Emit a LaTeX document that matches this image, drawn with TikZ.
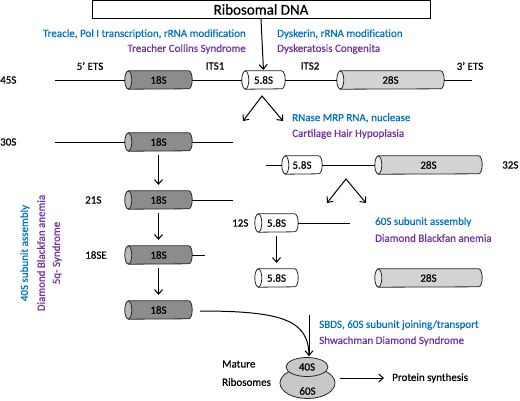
\documentclass[tikz,border=0pt]{standalone}
\usepackage{fontspec}
\setmainfont{Carlito}[FakeBold=0.5]
\usetikzlibrary{arrows.meta,shapes.geometric}
\definecolor{tblue}{HTML}{0070C0}
\definecolor{tpurple}{HTML}{7030A0}
\definecolor{dkgray}{HTML}{8C8C8C}
\definecolor{dkcap}{HTML}{B8B8B8}
\definecolor{ltgray}{HTML}{D3D3D3}
\definecolor{ltcap}{HTML}{EBEBEB}
\definecolor{ribo}{HTML}{C8C8C8}
\pgfdeclarelayer{bg}\pgfsetlayers{bg,main}
\tikzset{
 every node/.style={font=\fontsize{11}{13}\selectfont, inner sep=0pt},
 cylbox/.style={minimum height=18pt},
 cyledge/.style={draw=black!85, line width=0.8pt},
 rna/.style={line width=1pt},
 arr/.style={line width=1pt, -{Straight Barb[length=4.5pt,width=8pt]}},
 varr/.style={line width=1pt, line join=miter, {Straight Barb[length=4.5pt,width=8pt]}-{Straight Barb[length=4.5pt,width=8pt]}},
 fblue/.style={text=tblue},
 fpurple/.style={text=tpurple},
}
\newcommand{\rcyl}[7]{%
 \node[cylbox, minimum width=#3pt] (#1) at (#2,#4) {#7};
 \begin{pgfonlayer}{bg}
 \filldraw[cyledge, fill=#5] (#1.north west) -- (#1.north east) arc[start angle=90,end angle=-90,x radius=3.5pt,y radius=9pt] -- (#1.south west) -- cycle;
 \filldraw[cyledge, fill=#6] (#1.west) ellipse[x radius=3.5pt,y radius=9pt];
 \end{pgfonlayer}
}
\begin{document}
\begin{tikzpicture}[x=1pt,y=-1pt]
\useasboundingbox (0,0) rectangle (520,400);
\node[draw, line width=0.8pt, minimum width=338pt, minimum height=18pt, font=\fontsize{15}{17}\selectfont] (dna) at (261,9.5) {Ribosomal DNA};

\node[fblue, anchor=east] (t1) at (246,34) {Treacle, Pol I transcription, rRNA modification};
\node[fpurple, anchor=east] (t2) at (246,49) {Treacher Collins Syndrome};
\node[fblue, anchor=west] (t3) at (277,34) {Dyskerin, rRNA modification};
\node[fpurple, anchor=west] (t4) at (277,49) {Dyskeratosis Congenita};

% 45S
\node[anchor=west] (l45) at (0,80) {45S};
\rcyl{a18}{158.5}{60}{80}{dkgray}{dkcap}{18S}
\rcyl{a58}{263.5}{36}{80}{white}{white}{5.8S}
\rcyl{a28}{390.5}{100}{80}{ltgray}{ltcap}{28S}
\coordinate (a0) at (55,80); \coordinate (a9) at (472,80);
\draw[rna] (a0) -- ([xshift=-3.5pt]a18.west);
\draw[rna] ([xshift=3.5pt]a18.east) -- ([xshift=-3.5pt]a58.west);
\draw[rna] ([xshift=3.5pt]a58.east) -- ([xshift=-3.5pt]a28.west);
\draw[rna] ([xshift=3.5pt]a28.east) -- (a9);
\node (e5) at (90,66) {5’ ETS};
\node (i1) at (215,66) {ITS1};
\node (i2) at (310,66) {ITS2};
\node (e3) at (470,66) {3’ ETS};
\draw[arr, shorten >=1pt] (dna.south) -- (a58.north);

\coordinate (v1) at (262,96); \coordinate (v1l) at (243,121); \coordinate (v1r) at (283,121);
\draw[varr] (v1l) -- (v1) -- (v1r);
\node[fblue, anchor=west] (t5) at (292,118) {RNase MRP RNA, nuclease};
\node[fpurple, anchor=west] (t6) at (292,134) {Cartilage Hair Hypoplasia};

% 30S
\node[anchor=west] (l30) at (0,142) {30S};
\rcyl{b18}{158.5}{60}{142}{dkgray}{dkcap}{18S}
\coordinate (b0) at (55,142); \coordinate (b9) at (233,142);
\draw[rna] (b0) -- ([xshift=-3.5pt]b18.west);
\draw[rna] ([xshift=3.5pt]b18.east) -- (b9);

% 32S
\rcyl{c58}{302}{33}{165}{white}{white}{5.8S}
\rcyl{c28}{428.5}{100}{165}{ltgray}{ltcap}{28S}
\coordinate (c0) at (266,165);
\draw[rna] (c0) -- ([xshift=-3.5pt]c58.west);
\draw[rna] ([xshift=3.5pt]c58.east) -- ([xshift=-3.5pt]c28.west);
\node[anchor=west] (l32) at (502,165) {32S};
\coordinate (v2) at (346,179); \coordinate (v2l) at (327,203); \coordinate (v2r) at (366,203);
\draw[varr] (v2l) -- (v2) -- (v2r);

% 21S
\node[anchor=west] (l21) at (85,200) {21S};
\rcyl{d18}{158.5}{60}{200}{dkgray}{dkcap}{18S}
\coordinate (d9) at (233,200);
\draw[rna] ([xshift=3.5pt]d18.east) -- (d9);
\draw[arr, shorten <=4pt, shorten >=6pt] (b18.south) -- (d18.north);

% 12S
\node[anchor=west] (l12) at (232,223) {12S};
\rcyl{e58}{276.5}{36}{223}{white}{white}{5.8S}
\coordinate (e9) at (350,223);
\draw[rna] ([xshift=3.5pt]e58.east) -- (e9);
\node[fblue, anchor=west] (t7) at (375,222) {60S subunit assembly};
\node[fpurple, anchor=west] (t8) at (375,238) {Diamond Blackfan anemia};

% 18SE
\node[anchor=west] (l18e) at (85,255) {18SE};
\rcyl{f18}{158.5}{60}{255}{dkgray}{dkcap}{18S}
\coordinate (f9) at (205,255);
\draw[rna] ([xshift=3.5pt]f18.east) -- (f9);
\draw[arr, shorten <=4pt, shorten >=6pt] (d18.south) -- (f18.north);

% final 18S
\rcyl{g18}{158.5}{60}{310}{dkgray}{dkcap}{18S}
\draw[arr, shorten <=4pt, shorten >=6pt] (f18.south) -- (g18.north);

% bottom 5.8S and 28S
\rcyl{h58}{276.5}{36}{278}{white}{white}{5.8S}
\rcyl{h28}{428.5}{100}{278}{ltgray}{ltcap}{28S}
\draw[arr, shorten <=4pt, shorten >=6pt] (e58.south) -- (h58.north);

% left rotated text
\node[fblue, rotate=90] (s1) at (25,253) {40S subunit assembly};
\node[fpurple, rotate=90] (s2) at (41,253) {Diamond Blackfan anemia};
\node[fpurple, rotate=90] (s3) at (57,253) {5q- Syndrome};

% ribosome
\node[ellipse, cyledge, fill=ribo, minimum width=55pt, minimum height=31pt] (r60) at (307.5,383) {};
\node[ellipse, cyledge, fill=ribo, minimum width=42pt, minimum height=19pt] (r40) at (307,367) {40S};
\node (t60) at (307.5,391) {60S};

\coordinate (k0) at (200,311); \coordinate (k1) at (309,315); \coordinate (k2) at (309,356);
\draw[rna] (k0) .. controls (282,311) and (309,320) .. (k2);
\draw[arr] (k1) -- (k2);
\node[fblue, anchor=west] (t9) at (319,325) {SBDS, 60S subunit joining/transport};
\node[fpurple, anchor=west] (t10) at (319,341) {Shwachman Diamond Syndrome};

\node[anchor=west] (m1) at (222,364) {Mature};
\node[anchor=west] (m2) at (222,382) {Ribosomes};
\node[anchor=west] (ps) at (392,378) {Protein synthesis};
\coordinate (p0) at (340,378);
\draw[arr, shorten >=8pt] (p0) -- (ps.west);
\end{tikzpicture}
\end{document}
